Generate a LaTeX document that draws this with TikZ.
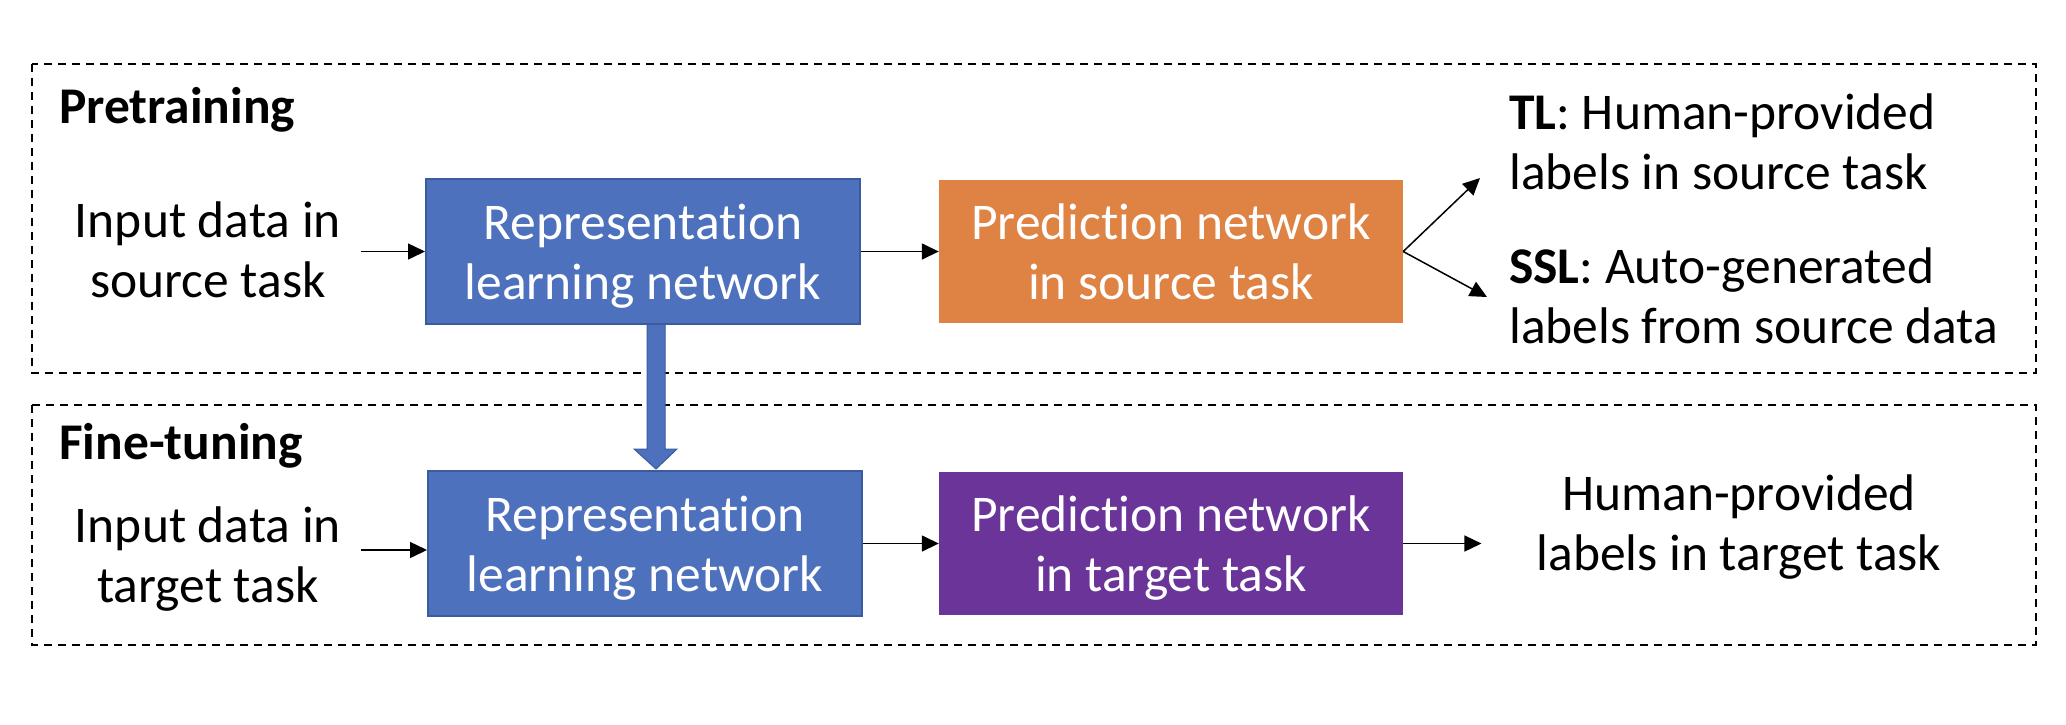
\documentclass[tikz,border=0pt]{standalone}
\usepackage{fontspec}
\setmainfont{Carlito}[Ligatures={NoCommon,NoContextual},RawFeature={-dlig}]
\usetikzlibrary{arrows.meta,calc}
\definecolor{repblue}{HTML}{4E71BE}
\definecolor{repedge}{HTML}{3A5C9E}
\definecolor{predorange}{HTML}{DF8344}
\definecolor{predpurple}{HTML}{6A3499}
\begin{document}
\begin{tikzpicture}[x=1pt,y=-1pt,
  txt/.style={font=\fontsize{51.5}{60}\selectfont, inner sep=0pt, text depth=0pt},
  phasetitle/.style={txt, font=\fontsize{51.5}{60}\selectfont\bfseries, anchor=base west},
  netbox/.style={txt, align=center, text=white, minimum width=434pt, minimum height=145pt},
  repbox/.style={netbox, fill=repblue, draw=repedge, line width=2pt},
  predbox/.style={netbox, minimum width=464pt, minimum height=143pt},
  arr/.style={-{Triangle[length=17pt,width=16pt]}, line width=1.5pt},
  phase/.style={draw, line width=2.2pt, dash pattern=on 8pt off 6pt},
  fat/.style={fill=repblue, draw=repedge, line width=1pt, line join=miter}
]
\useasboundingbox (0,0) rectangle (2066,724);
\draw[phase] (32,64) rectangle (2036,373);
\draw[phase] (32,405) rectangle (2036,645);

\node[phasetitle] (pre) at (59,123) {Pretraining};
\node[phasetitle] (fine) at (59,459) {Fine-tuning};

% pretraining row
\node[txt, align=center] (in1) at (208,249.5) {Input data in\\source task};
\node[repbox] (rep1) at (643,251.5) {Representation\\learning network};
\node[predbox, fill=predorange] (pred1) at (1171,251.5) {Prediction network\\in source task};
\node[txt, align=left, anchor=west] (tl) at (1509,142) {\textbf{TL}: Human-provided\\labels in source task};
\node[txt, align=left, anchor=west] (ssl) at (1509,295.5) {\textbf{SSL}: Auto-generated\\labels from source data};
\coordinate (tltip) at (1480,178);
\coordinate (ssltip) at (1487,297);

\draw[arr] ($(in1.east |- rep1.west)+(20,0)$) -- (rep1.west);
\draw[arr] (rep1.east) -- (pred1.west);
\draw[arr] (pred1.east) -- (tltip);
\draw[arr] (pred1.east) -- (ssltip);

% fine-tuning row
\node[txt, align=center] (in2) at (208,554.5) {Input data in\\target task};
\node[repbox] (rep2) at (645,543.5) {Representation\\learning network};
\node[predbox, fill=predpurple] (pred2) at (1171,543.5) {Prediction network\\in target task};
\node[txt, align=center] (hp) at (1739,523) {Human-provided\\labels in target task};

\draw[arr] ($(in2.east)+(20,-4.5)$) -- ($(rep2.west)+(0,6.5)$);
\draw[arr] (rep2.east) -- (pred2.west);
\draw[arr] (pred2.east) -- ($(hp.west |- pred2.east)+(-55,0)$);

% transfer arrow
\coordinate (ft) at ($(rep2.north)+(11,-1)$);
\draw[fat] ($(rep1.south)+(4,0)$) -- ($(ft)+(-9,-20)$) -- ($(ft)+(-22,-20)$) -- (ft)
  -- ($(ft)+(21,-20)$) -- ($(ft)+(9,-20)$) -- ($(rep1.south)+(22,0)$);
\end{tikzpicture}
\end{document}
